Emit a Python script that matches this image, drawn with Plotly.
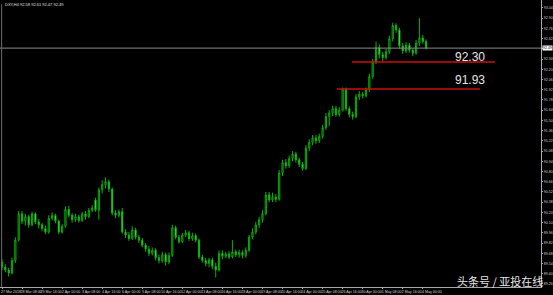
import plotly.graph_objects as go

opens = [89.56, 89.49, 89.45, 89.41, 89.58, 89.86, 90.22, 90.12, 90.18, 90.07,
         90.22, 90.11, 90.07, 90.02, 89.97, 90.16, 90.20, 90.12, 89.97, 90.05,
         90.28, 90.20, 90.14, 90.18, 90.13, 90.22, 90.18, 90.27, 90.41, 90.27,
         90.55, 90.62, 90.66, 90.56, 90.23, 90.20, 90.25, 89.97, 89.93, 89.88,
         90.00, 89.90, 89.86, 89.79, 89.74, 89.68, 89.72, 89.62, 89.58, 89.66,
         89.56, 89.65, 90.03, 89.90, 89.84, 89.93, 89.96, 89.88, 89.92, 89.86,
         89.63, 89.58, 89.54, 89.59, 89.50, 89.45, 89.68, 89.64, 89.67, 89.63,
         89.70, 89.66, 89.69, 89.65, 89.72, 89.90, 89.97, 90.07, 90.14, 90.22,
         90.48, 90.41, 90.45, 90.42, 90.78, 90.92, 90.88, 90.98, 91.04, 90.96,
         90.90, 90.84, 91.12, 91.20, 91.26, 91.22, 91.28, 91.40, 91.55, 91.60,
         91.66, 91.58, 91.64, 91.93, 91.66, 91.58, 91.55, 91.82, 91.86, 91.84,
         91.92, 92.10, 92.30, 92.50, 92.40, 92.36, 92.44, 92.62, 92.80, 92.74,
         92.52, 92.45, 92.53, 92.46, 92.42, 92.56, 92.63, 92.58]
highs = [89.60, 89.53, 89.48, 89.62, 89.90, 90.26, 90.26, 90.22, 90.21, 90.25,
         90.24, 90.15, 90.10, 90.06, 90.20, 90.24, 90.22, 90.14, 90.08, 90.32,
         90.33, 90.23, 90.22, 90.21, 90.25, 90.26, 90.30, 90.34, 90.44, 90.58,
         90.68, 90.72, 90.69, 90.58, 90.27, 90.28, 90.30, 90.01, 89.97, 90.05,
         90.03, 89.93, 89.89, 89.82, 89.78, 89.76, 89.75, 89.66, 89.70, 89.69,
         89.69, 90.07, 90.06, 89.93, 89.96, 90.00, 89.99, 89.96, 89.95, 89.88,
         89.66, 89.62, 89.62, 89.62, 89.55, 89.72, 89.72, 89.70, 89.71, 89.86,
         89.73, 89.73, 89.72, 89.76, 89.93, 90.02, 90.11, 90.18, 90.27, 90.52,
         90.52, 90.51, 90.49, 90.82, 90.96, 90.97, 91.02, 91.08, 91.07, 90.99,
         90.93, 91.16, 91.24, 91.30, 91.30, 91.32, 91.44, 91.60, 91.64, 91.70,
         91.70, 91.68, 91.95, 91.95, 91.69, 91.62, 91.86, 91.90, 91.89, 91.95,
         92.14, 92.34, 92.58, 92.54, 92.44, 92.48, 92.66, 92.84, 92.83, 92.77,
         92.56, 92.57, 92.56, 92.49, 92.60, 92.90, 92.67, 92.61]
lows = [89.45, 89.42, 89.36, 89.39, 89.55, 89.84, 90.08, 90.06, 90.03, 90.05,
        90.08, 90.02, 89.98, 89.94, 89.95, 90.13, 90.09, 89.94, 89.95, 90.03,
        90.17, 90.10, 90.11, 90.10, 90.11, 90.14, 90.16, 90.24, 90.25, 90.14,
        90.50, 90.57, 90.52, 90.20, 90.16, 90.17, 89.95, 89.89, 89.85, 89.86,
        89.87, 89.82, 89.76, 89.70, 89.64, 89.65, 89.58, 89.54, 89.55, 89.51,
        89.53, 89.63, 89.87, 89.81, 89.82, 89.90, 89.85, 89.85, 89.83, 89.60,
        89.55, 89.50, 89.49, 89.46, 89.35, 89.43, 89.60, 89.61, 89.60, 89.61,
        89.63, 89.62, 89.61, 89.62, 89.70, 89.87, 89.94, 90.03, 90.10, 90.20,
        90.38, 90.38, 90.38, 90.40, 90.74, 90.84, 90.85, 90.94, 90.92, 90.86,
        90.81, 90.82, 91.08, 91.16, 91.18, 91.19, 91.25, 91.37, 91.42, 91.56,
        91.55, 91.55, 91.62, 91.63, 91.54, 91.51, 91.53, 91.78, 91.80, 91.81,
        91.89, 92.07, 92.27, 92.35, 92.31, 92.33, 92.41, 92.58, 92.70, 92.48,
        92.41, 92.42, 92.43, 92.38, 92.40, 92.52, 92.55, 92.47]
closes = [89.49, 89.45, 89.41, 89.58, 89.86, 90.22, 90.12, 90.18, 90.07, 90.22,
          90.11, 90.07, 90.02, 89.97, 90.16, 90.20, 90.12, 89.97, 90.05, 90.28,
          90.20, 90.14, 90.18, 90.13, 90.22, 90.18, 90.27, 90.30, 90.27, 90.55,
          90.62, 90.66, 90.56, 90.23, 90.20, 90.25, 89.97, 89.93, 89.88, 90.00,
          89.90, 89.86, 89.79, 89.74, 89.68, 89.72, 89.62, 89.58, 89.66, 89.56,
          89.65, 90.03, 89.90, 89.84, 89.93, 89.96, 89.88, 89.92, 89.86, 89.63,
          89.58, 89.54, 89.59, 89.50, 89.45, 89.68, 89.64, 89.67, 89.63, 89.70,
          89.66, 89.69, 89.65, 89.72, 89.90, 89.97, 90.07, 90.14, 90.22, 90.48,
          90.41, 90.45, 90.42, 90.78, 90.92, 90.88, 90.98, 91.04, 90.96, 90.90,
          90.84, 91.12, 91.20, 91.26, 91.22, 91.28, 91.40, 91.55, 91.60, 91.66,
          91.58, 91.64, 91.93, 91.66, 91.58, 91.55, 91.82, 91.86, 91.84, 91.92,
          92.10, 92.30, 92.50, 92.40, 92.36, 92.44, 92.62, 92.80, 92.74, 92.52,
          92.45, 92.53, 92.46, 92.42, 92.56, 92.63, 92.58, 92.49]

x_tick_labels = ["27 Mar 2018", "28 Mar 08:00", "29 Mar 16:00", "2 Apr 00:00",
                 "3 Apr 08:00", "4 Apr 16:00", "6 Apr 00:00", "9 Apr 08:00",
                 "10 Apr 16:00", "12 Apr 00:00", "13 Apr 08:00", "16 Apr 16:00",
                 "18 Apr 00:00", "19 Apr 08:00", "20 Apr 16:00", "24 Apr 00:00",
                 "25 Apr 08:00", "26 Apr 16:00", "30 Apr 00:00", "1 May 08:00",
                 "2 May 16:00", "4 May 00:00"]
y_tick_values = [89.26, 89.40, 89.54, 89.68, 89.82, 89.96, 90.10, 90.24, 90.38,
                 90.52, 90.66, 90.80, 90.94, 91.08, 91.22, 91.36, 91.50, 91.64,
                 91.78, 91.92, 92.06, 92.20, 92.34, 92.48, 92.62, 92.76, 92.90,
                 93.04]
levels = [92.30, 91.93]
level_labels = ["92.30", "91.93"]
symbol = "DXY,H4"

n = len(closes)
xs = list(range(n))
GREEN = "#00b400"
AXC = "#a8a8a8"
TICKF = dict(size=3.6, color="#d0d0d0", family="Liberation Sans")

fig = go.Figure()
fig.add_trace(go.Candlestick(
    x=xs, open=opens, high=highs, low=lows, close=closes,
    increasing=dict(line=dict(color=GREEN, width=1), fillcolor="#000000"),
    decreasing=dict(line=dict(color=GREEN, width=1), fillcolor="#d8f8d8"),
    whiskerwidth=0, hoverinfo="skip", showlegend=False,
))

step = 6
tickvals = [i * step for i in range(len(x_tick_labels))]
last = closes[-1]
ytext = ["" if abs(v - last) < 0.06 else f"{v:.2f}" for v in y_tick_values]

fig.update_layout(
    width=553, height=295,
    margin=dict(l=0, r=12, t=0, b=8),
    paper_bgcolor="#000000", plot_bgcolor="#000000",
    boxgap=0.5,
    xaxis=dict(
        range=[-0.6, 161.4], rangeslider=dict(visible=False),
        showgrid=False, zeroline=False, showline=True, linecolor=AXC, linewidth=1,
        tickmode="array", tickvals=tickvals, ticktext=x_tick_labels,
        ticks="outside", ticklen=1, tickcolor=AXC, tickfont=TICKF, tickangle=0,
        ticklabelshift=9, ticklabelstandoff=0, automargin=False,
    ),
    yaxis=dict(
        range=[89.218, 93.149], side="right",
        showgrid=False, zeroline=False, showline=True, linecolor=AXC, linewidth=1,
        tickmode="array", tickvals=y_tick_values, ticktext=ytext,
        ticks="outside", ticklen=1, tickcolor=AXC, tickfont=TICKF,
        ticklabelstandoff=0, automargin=False,
    ),
    font=dict(family="Liberation Sans"),
)

# current price line
fig.add_shape(type="line", xref="paper", yref="y", x0=0, x1=1,
              y0=last, y1=last, line=dict(color="#8a8a8a", width=1))
fig.add_annotation(xref="paper", yref="y", x=1.002, y=last, xanchor="left",
                   yanchor="middle", text=f"{last:.2f}", showarrow=False,
                   bgcolor="#ffffff", font=dict(size=3.6, color="#000000", family="Liberation Sans"),
                   borderpad=0)

# left border line
fig.add_shape(type="line", xref="paper", yref="paper", x0=0.003, x1=0.003,
              y0=0, y1=0.985, line=dict(color="#6a6a6a", width=1))

# horizontal levels
extents = [(104.8, 147.6), (100.3, 143.1)]
shifts = [5, 9]
for lv, lab, (a, b), sh in zip(levels, level_labels, extents, shifts):
    fig.add_shape(type="line", xref="x", yref="y", x0=a, x1=b, y0=lv, y1=lv,
                  line=dict(color="#c81010", width=1.5))
    fig.add_annotation(xref="x", yref="y", x=140.1, y=lv, yshift=sh,
                       text=lab, showarrow=False, xanchor="center", yanchor="middle",
                       font=dict(size=12, color="#e6e6e6", family="Liberation Sans"))

# title text
fig.add_annotation(xref="paper", yref="paper", x=0.006, y=1, xanchor="left", yanchor="top",
                   text=f"{symbol} {opens[-1]:.2f} {highs[-1]:.2f} {lows[-1]:.2f} {last:.2f}",
                   showarrow=False, font=dict(size=4, color="#e0e0e0", family="Liberation Sans"))

# watermark
fig.add_annotation(xref="paper", yref="paper", x=1.008, y=0.02, xanchor="right",
                   yanchor="middle", text="头条号 / 亚投在线", showarrow=False,
                   font=dict(size=11, color="rgba(255,255,255,0.92)", family="Noto Sans CJK SC"))

fig.write_html("out.html")
